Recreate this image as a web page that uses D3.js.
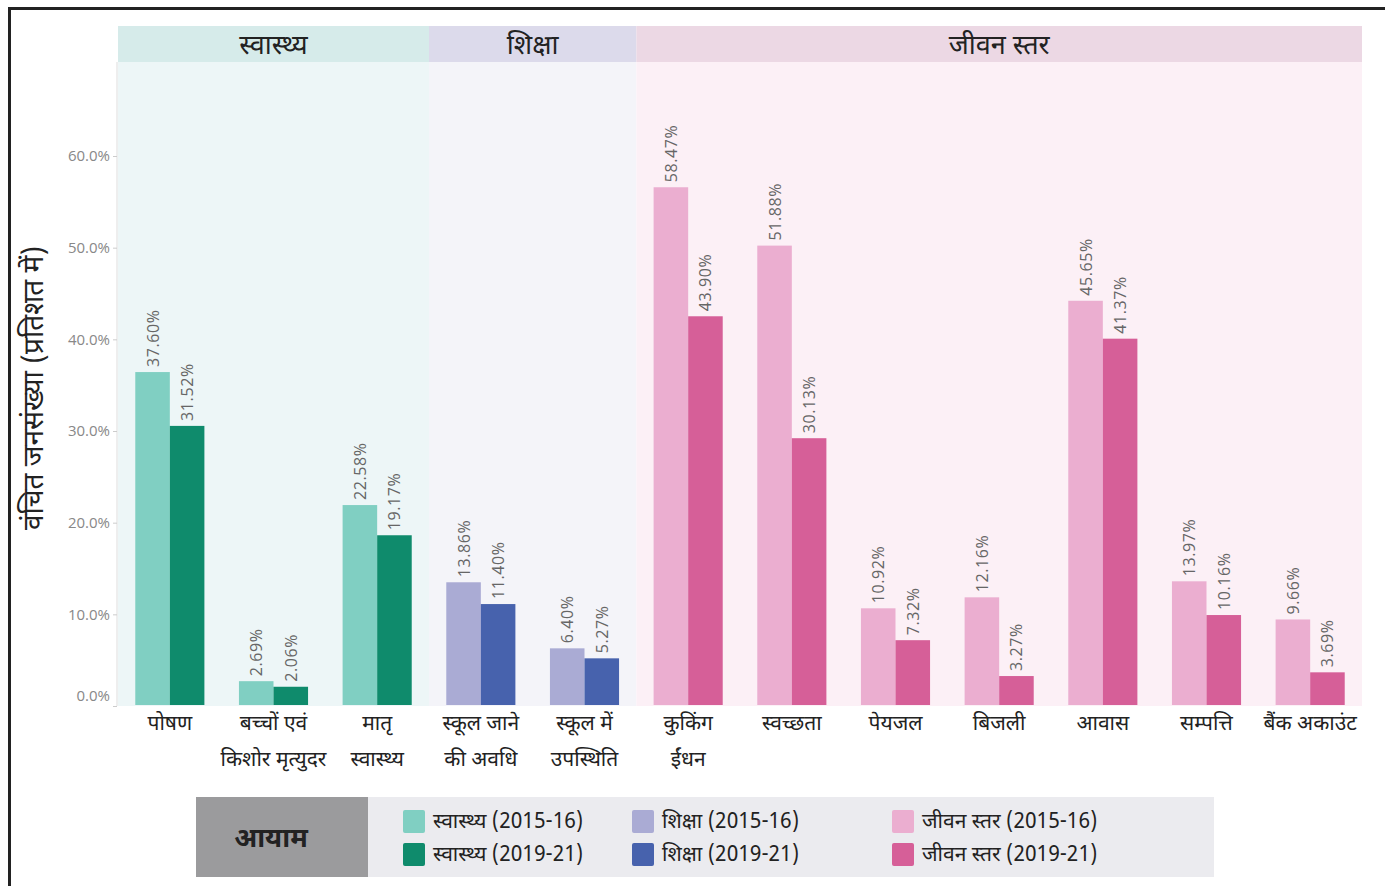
<!DOCTYPE html>
<html>
<head>
<meta charset="utf-8">
<script src="https://cdn.jsdelivr.net/npm/d3@7"></script>
<style>
  body { margin: 0; background: #fff; }
  svg text { font-family: "Noto Sans Devanagari", "Lohit Devanagari", "FreeSans", "Noto Sans", sans-serif; }
  .val { font-family: "Open Sans", "Noto Sans", sans-serif !important; }
  .tick text { font-family: "Open Sans", "Noto Sans", sans-serif !important; }
</style>
</head>
<body>
<div id="chart"></div>
<script>
// Categories (x axis) and which dimension each one belongs to
const categories = [
    ["पोषण"], ["बच्चों एवं", "किशोर मृत्युदर"], ["मातृ", "स्वास्थ्य"],
    ["स्कूल जाने", "की अवधि"], ["स्कूल में", "उपस्थिति"],
    ["कुकिंग", "ईंधन"], ["स्वच्छता"], ["पेयजल"], ["बिजली"], ["आवास"], ["सम्पत्ति"], ["बैंक अकाउंट"]
];
const dimensionOf = [0, 0, 0, 1, 1, 2, 2, 2, 2, 2, 2, 2];
const dimensions = ["स्वास्थ्य", "शिक्षा", "जीवन स्तर"];

// Deprived population share (%)
const values2015 = [37.60, 2.69, 22.58, 13.86, 6.40, 58.47, 51.88, 10.92, 12.16, 45.65, 13.97, 9.66];
const values2019 = [31.52, 2.06, 19.17, 11.40, 5.27, 43.90, 30.13, 7.32, 3.27, 41.37, 10.16, 3.69];

const yTicks = [0, 10, 20, 30, 40, 50, 60];
const periods = ["(2015-16)", "(2019-21)"];

// Colours per dimension: [light, dark]
const colors = [["#80cfc2", "#0f8b6c"], ["#aaabd4", "#4762ad"], ["#ebaed0", "#d65f98"]];
const headerFill = ["#d6ebea", "#dcdaeb", "#ecd8e4"];
const panelFill = ["#edf6f7", "#f4f4f9", "#fcf0f6"];

let width = 1385, height = 886;
let plot = { left: 118, right: 1362, top: 62, bottom: 705, headerTop: 26 };

let svg = d3.select("#chart").append("svg")
    .attr("width", width)
    .attr("height", height);

// Outer frame
svg.append("rect")
    .attr("x", 9.5).attr("y", 8.5)
    .attr("width", width + 10).attr("height", height + 10)
    .attr("fill", "none").attr("stroke", "#222").attr("stroke-width", 3);

let x = d3.scaleBand()
    .domain(d3.range(categories.length))
    .range([plot.left, plot.right])
    .paddingInner(0)
    .paddingOuter(0);

let inner = d3.scaleBand()
    .domain([0, 1])
    .range([0, x.bandwidth()])
    .paddingOuter(0.5)
    .paddingInner(0);

let y = d3.scaleLinear().domain([0, 62]).range([plot.bottom, 156]);
// axis labels in the original sit on their own spacing
let yAxisScale = d3.scaleLinear().domain([0, 60]).range([plot.bottom + 1, 156]);

// Panels and headers per dimension
dimensions.forEach(function (name, k) {
    let idx = d3.range(categories.length).filter(i => dimensionOf[i] === k);
    let x0 = x(idx[0]), x1 = x(idx[idx.length - 1]) + x.bandwidth();
    svg.append("rect")
        .attr("x", x0).attr("y", plot.top)
        .attr("width", x1 - x0).attr("height", plot.bottom - plot.top + 1)
        .attr("fill", panelFill[k]);
    svg.append("rect")
        .attr("x", x0).attr("y", plot.headerTop)
        .attr("width", x1 - x0).attr("height", plot.top - plot.headerTop)
        .attr("fill", headerFill[k]);
    svg.append("text")
        .attr("x", (x0 + x1) / 2).attr("y", 54)
        .attr("text-anchor", "middle")
        .style("font-size", "27px")
        .attr("fill", "#222")
        .text(name);
});

// Y axis
let yAxis = svg.append("g")
    .attr("transform", "translate(" + (plot.left - 1) + ",0)")
    .call(d3.axisLeft(yAxisScale).tickValues(yTicks).tickSize(4)
        .tickFormat(d => d.toFixed(1) + "%"));
yAxis.select(".domain").attr("stroke", "#ddd").attr("d", "M0," + plot.top + "V" + (plot.bottom + 1));
yAxis.selectAll(".tick line").attr("stroke", "#ccc");
yAxis.selectAll(".tick text")
    .attr("fill", "#888").style("font-size", "15px").attr("x", -7);
yAxis.selectAll(".tick").filter(d => d === 0).select("text").attr("dy", "-0.4em");

svg.append("text")
    .attr("transform", "translate(43," + 388 + ") rotate(-90)")
    .attr("text-anchor", "middle")
    .style("font-size", "28px")
    .attr("fill", "#222")
    .text("वंचित जनसंख्या (प्रतिशत में)");

// Bars
let rows = categories.map(function (c, i) {
    return { i: i, k: dimensionOf[i], vals: [values2015[i], values2019[i]] };
});

let groups = svg.selectAll(".grp")
    .data(rows)
    .enter().append("g")
    .attr("class", "grp")
    .attr("transform", d => "translate(" + x(d.i) + ",0)");

let bars = groups.selectAll("g.bar")
    .data(d => d.vals.map((v, j) => ({ v: v, j: j, k: d.k })))
    .enter().append("g").attr("class", "bar");

bars.append("rect")
    .attr("x", d => inner(d.j))
    .attr("width", inner.bandwidth())
    .attr("y", d => y(d.v))
    .attr("height", d => y(0) - y(d.v))
    .attr("fill", d => colors[d.k][d.j]);

bars.append("text")
    .attr("class", "val")
    .attr("transform", d => "translate(" + (inner(d.j) + inner.bandwidth() / 2 + 6) + "," + (y(d.v) - 5) + ") rotate(-90)")
    .style("font-size", "16px")
    .style("letter-spacing", "0.6px")
    .attr("fill", "#666")
    .text(d => d.v.toFixed(2) + "%");

// X labels
groups.append("text")
    .attr("text-anchor", "middle")
    .style("font-size", "21px")
    .attr("fill", "#222")
    .selectAll("tspan")
    .data(d => categories[d.i])
    .enter().append("tspan")
    .attr("x", x.bandwidth() / 2)
    .attr("y", (d, j) => 730 + j * 36)
    .text(d => d);

// Legend
let legend = svg.append("g");
legend.append("rect").attr("x", 196).attr("y", 797).attr("width", 1018).attr("height", 80).attr("fill", "#ebebef");
legend.append("rect").attr("x", 196).attr("y", 797).attr("width", 172).attr("height", 80).attr("fill", "#9b9b9d");
legend.append("text")
    .attr("x", 271).attr("y", 847)
    .attr("text-anchor", "middle")
    .style("font-size", "27px").style("font-weight", "bold")
    .attr("fill", "#222")
    .text("आयाम");

let legendCols = [403, 632, 892];
dimensions.forEach(function (name, k) {
    periods.forEach(function (p, j) {
        let g = legend.append("g")
            .attr("transform", "translate(" + legendCols[k] + "," + (810 + j * 33) + ")");
        g.append("rect").attr("width", 22).attr("height", 23).attr("rx", 2).attr("fill", colors[k][j]);
        g.append("text")
            .attr("x", 30).attr("y", 18)
            .style("font-size", "21px")
            .attr("fill", "#222")
            .text(name + " " + p);
    });
});
</script>
</body>
</html>
